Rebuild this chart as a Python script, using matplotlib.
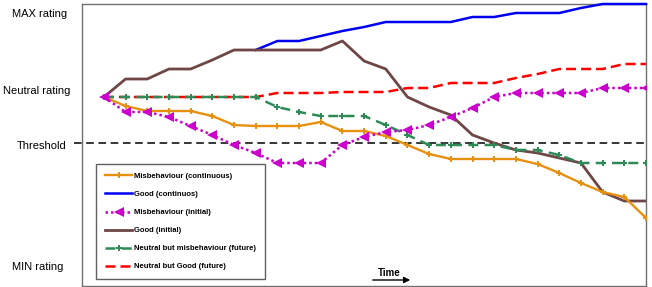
import numpy as np
import matplotlib
matplotlib.use('Agg')
import matplotlib.pyplot as plt

plt.rcParams['font.family'] = ['Liberation Sans', 'DejaVu Sans']

# rating values relative to the neutral rating (0); higher is better
steps = np.arange(26)
misb_cont = [0, -9, -14, -14, -14, -19, -28, -29, -29, -29, -25, -34, -34, -39, -48,
             -57, -62, -62, -62, -62, -67, -76, -86, -95, -100, -121]
good_cont = [np.nan] * 7 + [47, 56, 56, 61, 66, 70, 75, 75, 75, 75, 80, 80, 84, 84, 84,
                            89, 93, 93, 93]
misb_init = [0, -15, -15, -20, -29, -38, -48, -56, -66, -66, -66, -48, -40, -35, -33,
             -28, -20, -11, 0, 4, 4, 4, 4, 9, 9, 9]
good_init = [0, 18, 18, 28, 28, 37, 47, 47, 47, 47, 47, 56, 36, 28, 0, -10, -18, -38,
             -46, -53, -56, -61, -66, -95, -104, -104]
neut_misb = [0, 0, 0, 0, 0, 0, 0, 0, -10, -15, -19, -19, -19, -28, -38, -48, -48, -48,
             -48, -53, -53, -58, -66, -66, -66, -66]
neut_good = [0, 0, 0, 0, 0, 0, 0, 0, 4, 4, 4, 5, 5, 5, 9, 9, 14, 14, 14, 19, 23, 28,
             28, 28, 33, 33]
threshold = -46
levels = [83, 6, -49, -170]
level_names = ['MAX rating', 'Neutral rating', 'Threshold', 'MIN rating']
legend_names = ['Misbehaviour (continuous)', 'Good (continuos)', 'Misbehaviour (initial)',
                'Good (initial)', 'Neutral but misbehaviour (future)', 'Neutral but Good (future)']

W, H = 652, 287
fig = plt.figure(figsize=(W / 100, H / 100), dpi=100)
ax = fig.add_axes([82 / W, 1 / H, (646 - 82) / W, (286 - 4) / H])
ax.set_xlim(-1.01, 25.0)
ax.set_ylim(-189, 93)
ax.set_xticks([])
ax.set_yticks([])
for sp in ax.spines.values():
    sp.set_color('#707070')
    sp.set_linewidth(1.0)

# threshold line (runs a little past the left edge)
ax.plot([-1.4, 25], [threshold, threshold], color='k', lw=1.1, ls=(0, (5, 3)),
        clip_on=False, zorder=1)

l1, = ax.plot(steps, misb_cont, color='#E8900F', lw=1.7, marker='+', ms=5, mew=1.4,
              zorder=4)
l2, = ax.plot(steps, good_cont, color='#0000F0', lw=1.8, zorder=3, clip_on=False)
l3, = ax.plot(steps, misb_init, color='#CC00CC', lw=1.8, ls=(0, (1, 1.2)), marker='<',
              ms=6.5, mew=0, zorder=5)
l4, = ax.plot(steps, good_init, color='#6E4646', lw=2.0, zorder=3)
l5, = ax.plot(steps, neut_misb, color='#2E8B57', lw=1.8, ls=(0, (4, 2.5)), marker='P',
              ms=4.5, mew=0, zorder=4)
l6, = ax.plot(steps, neut_good, color='#FF0000', lw=1.8, ls=(0, (4, 2)), zorder=3)

for yv, name, xc in zip(levels, level_names, [40, 37, 42, 38]):
    ypix = ax.transData.transform((0, yv))[1]
    fig.text(xc / W, ypix / (H), name, ha='center', va='center', fontsize=8)

leg = ax.legend([l1, l2, l3, l4, l5, l6], legend_names, loc='upper left',
                bbox_to_anchor=(96 / W, 1 - 164 / H), bbox_transform=fig.transFigure,
                prop=dict(size=5.5, weight='bold'), handlelength=3.6, handletextpad=0.2,
                labelspacing=1.4, borderpad=1.15, borderaxespad=0, fancybox=False,
                framealpha=1, edgecolor='#606060')
leg.get_frame().set_linewidth(1.0)

ax.annotate('', xy=(413, H - 280), xytext=(370, H - 280), xycoords='figure pixels',
            arrowprops=dict(arrowstyle='-|>', color='k', lw=1.0, mutation_scale=9))
fig.text(389 / W, (H - 273) / H, 'Time', ha='center', va='center', fontsize=7,
         weight='bold')

fig.savefig('out.png', dpi=100)
